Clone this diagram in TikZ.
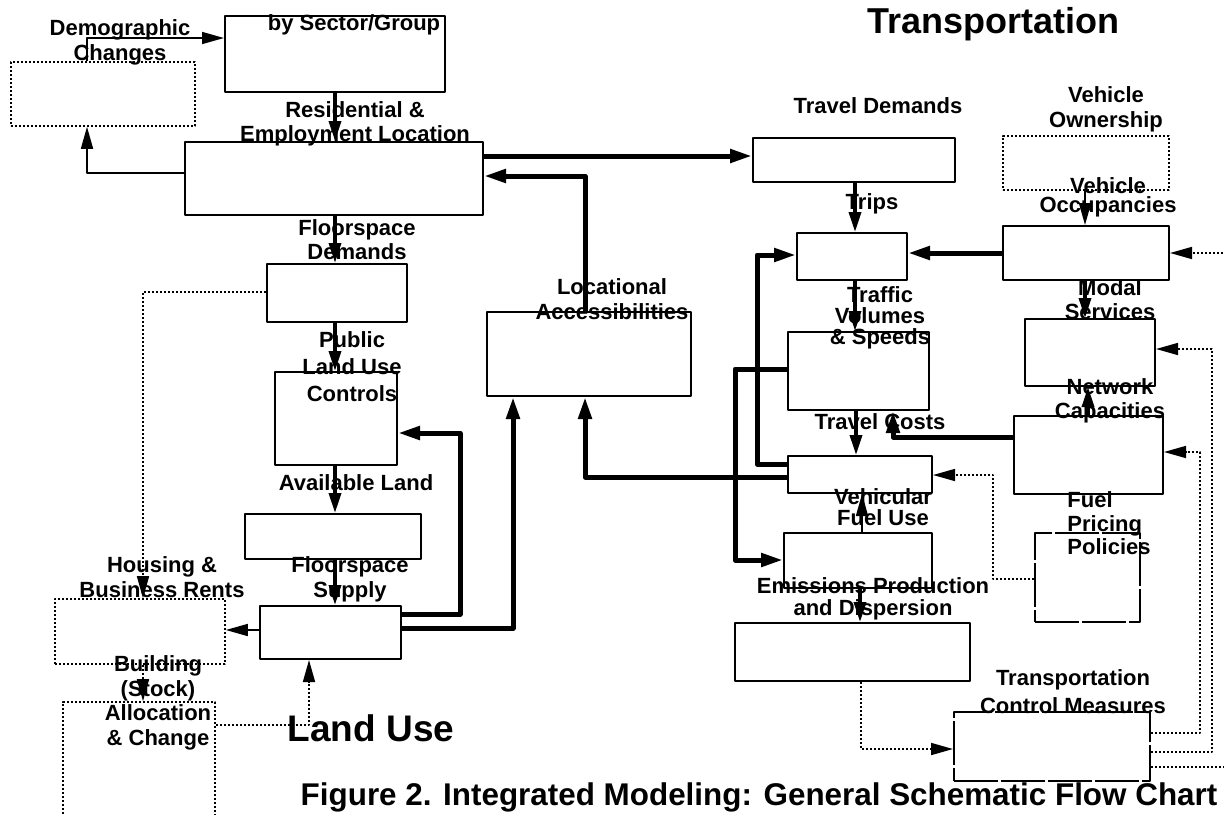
\documentclass[tikz,border=0pt]{standalone}
\usepackage{fontspec}
\setmainfont{Liberation Sans}
\usepackage{tikz}
\usetikzlibrary{arrows.meta,positioning}

\begin{document}
\begin{tikzpicture}[
        x=0.5pt, y=-0.5pt, line join=round,
        box/.style={rectangle, draw=black, line width=1pt, inner sep=0pt},
        dotbox/.style={rectangle, draw=black, line width=0.8pt, inner sep=0pt, dash pattern=on 1.2pt off 0.8pt},
        gapbox/.style={rectangle, draw=black, line width=1pt, inner sep=0pt, dash pattern=on 22pt off 1.5pt},
        lbl/.style={font=\fontsize{11pt}{#1pt}\selectfont\bfseries, align=center, inner sep=0pt},
        lbl/.default=12,
        title/.style={font=\fontsize{#1pt}{#1pt}\selectfont\bfseries, inner sep=0pt},
        arrow/.style={-{Triangle[length=11pt,width=6pt]}, line width=0.8pt},
        medarrow/.style={-{Triangle[length=10pt,width=6pt]}, line width=1.7pt},
        bigarrow/.style={-{Triangle[length=11pt,width=6.5pt]}, line width=2.5pt},
        dotarrow/.style={arrow, dash pattern=on 1.2pt off 0.8pt}
    ]
        \useasboundingbox (0,0) rectangle (1224,814);
        \clip (0,0) rectangle (1224,814);

        % Land use boxes
        \node[box, minimum width=110pt, minimum height=38pt] (sector) at (335,54) {};
        \node[dotbox, minimum width=92pt, minimum height=32pt] (demog) at (103,94) {};
        \node[box, minimum width=149pt, minimum height=36.5pt] (location) at (334,178.5) {};
        \node[box, minimum width=70pt, minimum height=29pt] (fsdemand) at (337,293) {};
        \node[box, minimum width=61pt, minimum height=46.5pt] (controls) at (336,418.5) {};
        \node[box, minimum width=88pt, minimum height=22.5pt] (avail) at (333,536.5) {};
        \node[box, minimum width=70.5pt, minimum height=26.5pt] (supply) at (330.5,632.5) {};
        \node[dotbox, minimum width=85pt, minimum height=32.5pt] (rents) at (140,631.5) {};
        \node[dotbox, minimum width=76pt, minimum height=69pt] (stock) at (139,771) {};
        \node[box, minimum width=102pt, minimum height=42pt] (access) at (589,354) {};

        % Transportation boxes
        \node[box, minimum width=101pt, minimum height=22pt] (travdem) at (854,160) {};
        \node[box, minimum width=55pt, minimum height=23.5pt] (trips) at (852,256.5) {};
        \node[dotbox, minimum width=83pt, minimum height=27pt] (owner) at (1086,163) {};
        \node[box, minimum width=83pt, minimum height=27pt] (occup) at (1086,253) {};
        \node[box, minimum width=70.5pt, minimum height=39pt] (volumes) at (858.5,371) {};
        \node[box, minimum width=65pt, minimum height=33.5pt] (modal) at (1090,352.5) {};
        \node[box, minimum width=72pt, minimum height=18.5pt] (costs) at (860,474.5) {};
        \node[box, minimum width=74.5pt, minimum height=39pt] (network) at (1088.5,455) {};
        \node[box, minimum width=74pt, minimum height=27.5pt] (fueluse) at (858,560.5) {};
        \node[gapbox, minimum width=52.5pt, minimum height=44.5pt] (pricing) at (1087.5,577.5) {};
        \node[box, minimum width=117.5pt, minimum height=29pt] (emis) at (852.5,652) {};
        \node[gapbox, minimum width=98pt, minimum height=34.5pt] (tcm) at (1052,746.5) {};

        % Land use arrows
        \draw[arrow] (demog.north -| 87,0) |- (sector.west |- 0,38);
        \draw[arrow] (location.west |- 0,173) -| (demog.south -| 87,0);
        \draw[medarrow] (sector.south -| 335,0) -- (location.north -| 335,0);
        \draw[medarrow] (location.south -| 335,0) -- (fsdemand.north -| 335,0);
        \draw[medarrow] (fsdemand.south -| 335,0) -- (controls.north -| 335,0);
        \draw[medarrow] (controls.south -| 335,0) -- (avail.north -| 335,0);
        \draw[medarrow] (avail.south -| 335,0) -- (supply.north -| 335,0);
        \draw[arrow] (supply.west |- 0,630) -- (rents.east |- 0,630);
        \draw[dotarrow] (fsdemand.west |- 0,292) -| (rents.north -| 143,0);
        \draw[dotarrow] (rents.south -| 143,0) -- (stock.north -| 143,0);
        \draw[dotarrow] (stock.east |- 0,725) -| (supply.south -| 309,0);
        \draw[bigarrow] (supply.east |- 0,614) -- (460,614) |- (controls.east |- 0,433);
        \draw[bigarrow] (supply.east |- 0,628) -| (access.south -| 513,0);

        % Links between the two sides
        \draw[bigarrow] (costs.west |- 0,477) -| (access.south -| 585,0);
        \draw[bigarrow] (access.north -| 585,0) |- (location.east |- 0,176);
        \draw[bigarrow] (location.east |- 0,156) -- (travdem.west |- 0,156);

        % Transportation arrows
        \draw[medarrow] (travdem.south -| 855,0) -- (trips.north -| 855,0);
        \draw[medarrow] (trips.south -| 855,0) -- (volumes.north -| 855,0);
        \draw[medarrow] (volumes.south -| 856,0) -- (costs.north -| 856,0);
        \draw[bigarrow] (occup.west |- 0,253) -- (trips.east |- 0,253);
        \draw[arrow] (owner.south -| 1085,0) -- (occup.north -| 1085,0);
        \draw[medarrow] (occup.south -| 1085,0) -- (modal.north -| 1085,0);
        \draw[medarrow] (network.north -| 1088,0) -- (modal.south -| 1088,0);
        \draw[bigarrow] (network.west |- 0,437) -| (volumes.south -| 893,0);
        \draw[bigarrow] (volumes.west |- 0,369) -- (735,369) |- (fueluse.west |- 0,560);
        \draw[bigarrow] (costs.west |- 0,464) -- (757,464) |- (trips.west |- 0,255);
        \draw[arrow] (fueluse.north -| 862,0) -- (costs.south -| 862,0);
        \draw[medarrow] (fueluse.south -| 860,0) -- (emis.north -| 860,0);
        \draw[dotarrow] (emis.south -| 861,0) |- (tcm.west |- 0,749);
        \draw[dotarrow] (pricing.west |- 0,579) -- (993,579) |- (costs.east |- 0,475);
        \draw[dotarrow] (tcm.east |- 0,733) -- (1200,733) |- (network.east |- 0,452);
        \draw[dotarrow] (tcm.east |- 0,752) -- (1212,752) |- (modal.east |- 0,349);
        \draw[dotarrow] (tcm.east |- 0,767) -- (1240,767) |- (occup.east |- 0,253);

        % Land use labels
        \node[lbl=12.5] (demoglbl) at (120,42.5) {Demographic\\Changes};
        \node[lbl] (sectorlbl) at (354,25) {by Sector/Group};
        \node[lbl] (locationlbl) at (355,124) {Residential \&\\Employment Location};
        \node[lbl] (fsdemandlbl) at (357,240) {Floorspace\\Demands};
        \node[lbl=13.5] (controlslbl) at (352,367) {Public\\Land Use\\Controls};
        \node[lbl] (availlbl) at (356,483) {Available Land};
        \node[lbl=12.5] (supplylbl) at (350,579.5) {Floorspace\\Supply};
        \node[lbl=12.5] (rentslbl) at (162,577.5) {Housing \&\\Business Rents};
        \node[lbl=12.3] (stocklbl) at (158,703) {Building\\(Stock)\\Allocation\\\& Change};
        \node[lbl=12.5] (accesslbl) at (612,299.5) {Locational\\Accessibilities};
        \node[title=18.5] (landuse) at (371,728) {Land Use};

        % Transportation labels
        \node[title=18] (transport) at (993,24) {Transportation};
        \node[lbl] (travdemlbl) at (878,106) {Travel Demands};
        \node[lbl=12.5] (ownerlbl) at (1106,109.5) {Vehicle\\Ownership};
        \node[lbl] (tripslbl) at (872,204) {Trips};
        \node[lbl=9.5] (occuplbl) at (1108,197.5) {Vehicle\\Occupancies};
        \node[lbl=10.5] (volumeslbl) at (880,317.5) {Traffic\\Volumes\\\& Speeds};
        \node[lbl] (modallbl) at (1110,300) {Modal\\Services};
        \node[lbl] (networklbl) at (1110,401) {Network\\Capacities};
        \node[lbl] (costslbl) at (880,422) {Travel Costs};
        \node[lbl=10.5] (fueluselbl) at (883,507.5) {Vehicular\\Fuel Use};
        \node[lbl=11.75, align=left, anchor=west] (pricinglbl) at (1067,523.5) {Fuel\\Pricing\\Policies};
        \node[lbl=11] (emislbl) at (873,599) {Emissions Production\\and Dispersion};
        \node[lbl=14] (tcmlbl) at (1073,692) {Transportation\\Control Measures};

        % Caption
        \node[title=15.7] (caption) at (759,797) {Figure 2. Integrated Modeling: General Schematic Flow Chart};

    \end{tikzpicture}
\end{document}
